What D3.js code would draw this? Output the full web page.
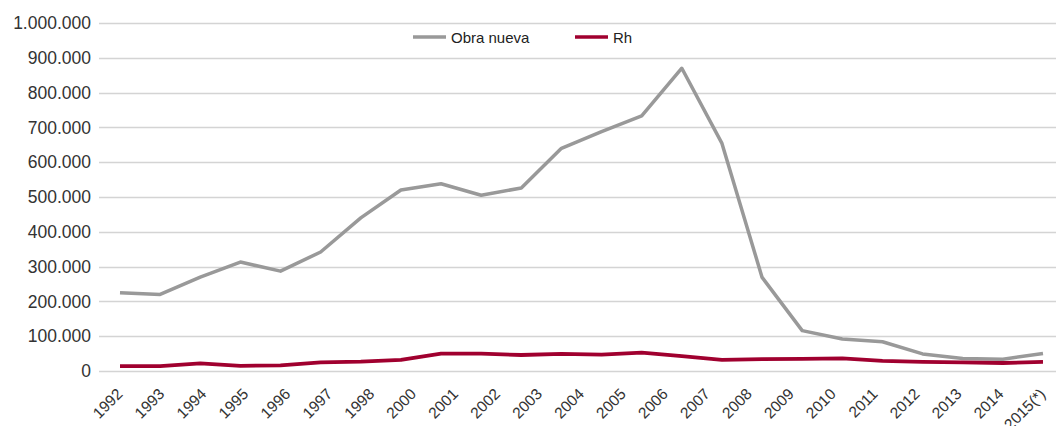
<!DOCTYPE html>
<html>
<head>
<meta charset="utf-8">
<script src="https://cdn.jsdelivr.net/npm/d3@7"></script>
<style>
  html, body { margin: 0; padding: 0; background: #fff; }
  svg { display: block; font-family: "Liberation Sans", Arial, sans-serif; }
</style>
</head>
<body>
<svg id="chart" width="1056" height="426"></svg>
<script>
// Yearly series, 1992–2015
const years = d3.range(1992, 2016);
const obraNueva = [225000, 220000, 270000, 313000, 287000, 342000, 440000, 520000, 538000, 505000,
                   526000, 640000, 688000, 733000, 870000, 654000, 269000, 116000, 92000, 84000,
                   49000, 36000, 34000, 50000];
const rh = [14000, 14000, 22000, 15000, 16000, 25000, 27000, 32000, 50000, 50000,
            46000, 49000, 47000, 53000, 43000, 32000, 34000, 35000, 36000, 29000,
            26000, 25000, 23000, 26000];

// Category labels printed under the axis
const xLabels = ["1992", "1993", "1994", "1995", "1996", "1997", "1998", "2000", "2001", "2002",
                 "2003", "2004", "2005", "2006", "2007", "2008", "2009", "2010", "2011", "2012",
                 "2013", "2014", "2015(*)"];
const yTicks = [0, 100000, 200000, 300000, 400000, 500000, 600000, 700000, 800000, 900000, 1000000];

const seriesNames = ["Obra nueva", "Rh"];
const colors = { "Obra nueva": "#999999", "Rh": "#a0002f" };

const svg = d3.select("#chart");
const plotLeft = 99, plotRight = 1056, plotTop = 23, plotBottom = 371;

const x = d3.scalePoint().domain(years).range([120, 1043]);
const xl = d3.scalePoint().domain(xLabels).range([122, 1045]);
const y = d3.scaleLinear().domain([0, 1000000]).range([plotBottom, plotTop]);

const fmt = v => d3.format(",")(v).replace(/,/g, ".");

// Horizontal gridlines
svg.append("g")
  .selectAll("line")
  .data(yTicks)
  .join("line")
  .attr("x1", plotLeft).attr("x2", plotRight)
  .attr("y1", d => Math.round(y(d)) + 0.5)
  .attr("y2", d => Math.round(y(d)) + 0.5)
  .attr("stroke", "#d4d4d4")
  .attr("stroke-width", 1.3);

// Y axis labels
const yAxis = svg.append("g")
  .attr("transform", `translate(${plotLeft - 8},0)`)
  .call(d3.axisLeft(y).tickValues(yTicks).tickFormat(fmt).tickSize(0).tickPadding(0));
yAxis.select(".domain").remove();
yAxis.selectAll("text")
  .attr("font-size", 17.5)
  .attr("fill", "#333")
  .attr("font-family", "'Liberation Sans', Arial, sans-serif");

// X axis labels (rotated)
const xAxis = svg.append("g")
  .attr("transform", `translate(0,${plotBottom + 23})`)
  .call(d3.axisBottom(xl).tickSize(0).tickPadding(0));
xAxis.select(".domain").remove();
xAxis.selectAll("text")
  .attr("font-size", 15.5)
  .attr("fill", "#333")
  .attr("font-family", "'Liberation Sans', Arial, sans-serif")
  .attr("text-anchor", "end")
  .attr("dy", "0.35em")
  .attr("transform", "rotate(-45) translate(0,-4)");

// Lines
const line = d3.line()
  .x((d, i) => x(years[i]))
  .y(d => y(d));

svg.append("path")
  .datum(obraNueva)
  .attr("fill", "none")
  .attr("stroke", colors["Obra nueva"])
  .attr("stroke-width", 3.5)
  .attr("stroke-linejoin", "round")
  .attr("d", line);

svg.append("path")
  .datum(rh)
  .attr("fill", "none")
  .attr("stroke", colors["Rh"])
  .attr("stroke-width", 3.8)
  .attr("stroke-linejoin", "round")
  .attr("d", line);

// Legend
const legendX = [413, 575];
const legend = svg.append("g");
seriesNames.forEach((name, i) => {
  const g = legend.append("g").attr("transform", `translate(${legendX[i]},37)`);
  g.append("line").attr("x1", 0).attr("x2", 33).attr("y1", 0).attr("y2", 0)
    .attr("stroke", colors[name]).attr("stroke-width", 3.5);
  g.append("text").attr("x", 38).attr("y", 5.5)
    .attr("font-size", 15).attr("fill", "#222").text(name);
});
</script>
</body>
</html>
